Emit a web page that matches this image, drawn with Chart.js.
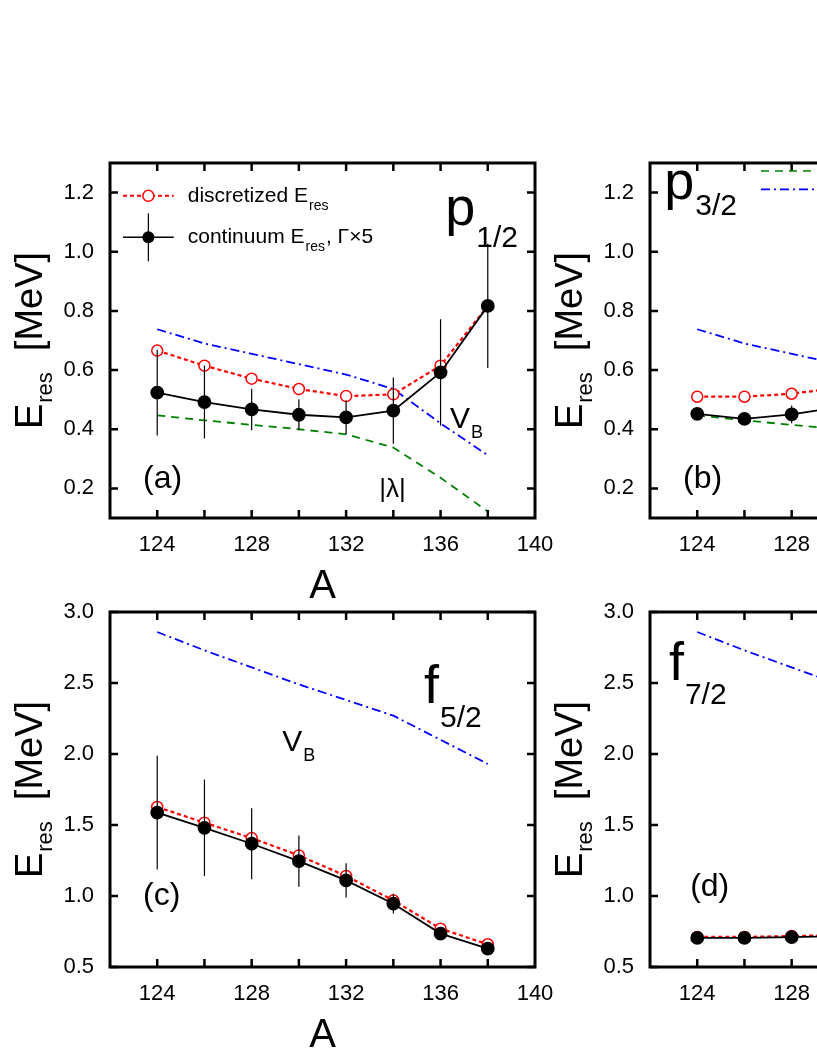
<!DOCTYPE html>
<html>
<head>
<meta charset="utf-8">
<script src="https://cdn.jsdelivr.net/npm/chart.js@4.4.1/dist/chart.umd.min.js"></script>
<style>
  html, body { margin: 0; padding: 0; background: #fff; width: 817px; height: 1058px; overflow: hidden; position: relative; }
  .pane { position: absolute; width: 560px; height: 480px; }
</style>
</head>
<body>
<div class="pane" style="left:0;top:130px"><canvas id="pa"></canvas></div>
<div class="pane" style="left:540px;top:130px"><canvas id="pb"></canvas></div>
<div class="pane" style="left:0;top:579px"><canvas id="pc"></canvas></div>
<div class="pane" style="left:540px;top:579px"><canvas id="pd"></canvas></div>
<script>
const A = [124, 126, 128, 130, 132, 134, 136, 138];
const X_TICKS = [124, 128, 132, 136, 140];
const X_MINOR = [124, 126, 128, 130, 132, 134, 136, 138];

// (a) p1/2
const aDisc = [0.666, 0.615, 0.571, 0.536, 0.512, 0.518, 0.615, 0.817];
const aCont = [0.524, 0.492, 0.467, 0.449, 0.440, 0.463, 0.592, 0.817];
const aErr  = [0.145, 0.123, 0.070, 0.052, 0.057, 0.112, 0.180, 0.210];
const aVB   = [0.738, 0.690, 0.655, 0.620, 0.585, 0.536, 0.420, 0.312];
const aLam  = [0.447, 0.430, 0.415, 0.400, 0.383, 0.338, 0.236, 0.122];

// (b) p3/2
const bDisc = [0.510, 0.510, 0.520, 0.540, 0.570, 0.610, 0.680, 0.780];
const bCont = [0.452, 0.435, 0.450, 0.475, 0.510, 0.560, 0.640, 0.760];
const bErr  = [0.020, 0.005, 0.030, 0.030, 0.030, 0.040, 0.060, 0.080];
const bVB   = [0.738, 0.690, 0.655, 0.620, 0.585, 0.536, 0.420, 0.312];
const bLam  = [0.447, 0.430, 0.415, 0.400, 0.383, 0.338, 0.236, 0.122];

// (c) f5/2
const cDisc = [1.627, 1.516, 1.408, 1.286, 1.141, 0.969, 0.770, 0.660];
const cCont = [1.587, 1.480, 1.368, 1.246, 1.110, 0.946, 0.735, 0.629];
const cErr  = [0.400, 0.340, 0.250, 0.180, 0.120, 0.070, 0.020, 0.010];
const cVB   = [2.859, 2.730, 2.610, 2.490, 2.380, 2.270, 2.100, 1.930];

// (d) f7/2
const dDisc = [0.712, 0.712, 0.718, 0.725, 0.735, 0.745, 0.760, 0.780];
const dCont = [0.705, 0.705, 0.710, 0.718, 0.728, 0.738, 0.752, 0.770];
const dErr  = [0.005, 0.005, 0.005, 0.005, 0.005, 0.005, 0.005, 0.005];
const dVB   = [2.859, 2.730, 2.610, 2.490, 2.380, 2.270, 2.100, 1.930];

const FONT = '"Liberation Sans", Arial, sans-serif';
const pts = (ys) => A.map((x, i) => ({ x, y: ys[i] }));

function line(ys, color, dash, extra) {
  return Object.assign({
    data: pts(ys), borderColor: color, borderWidth: 1.8, borderDash: dash,
    pointRadius: 0, fill: false, tension: 0, order: 2
  }, extra || {});
}

function drawText(ctx, x, y, text, size, sub, subSize, subDy) {
  ctx.font = size + 'px ' + FONT;
  ctx.fillText(text, x, y);
  if (sub) {
    const w = ctx.measureText(text).width;
    ctx.font = subSize + 'px ' + FONT;
    ctx.fillText(sub, x + w + 1, y + subDy);
  }
}

const decor = {
  id: 'decor',
  afterDatasetsDraw(chart, args, o) {
    const { ctx, chartArea: ca, scales: { x, y } } = chart;
    ctx.save();
    // error bars on continuum
    ctx.strokeStyle = '#000'; ctx.lineWidth = 1.2;
    o.err.forEach((e, i) => {
      const px = x.getPixelForValue(A[i]);
      ctx.beginPath();
      ctx.moveTo(px, y.getPixelForValue(o.cont[i] - e));
      ctx.lineTo(px, y.getPixelForValue(o.cont[i] + e));
      ctx.stroke();
    });
    // frame and inward ticks
    ctx.lineWidth = 3;
    ctx.strokeRect(ca.left, ca.top, ca.right - ca.left, ca.bottom - ca.top);
    ctx.lineWidth = 2.5;
    X_MINOR.forEach(v => {
      const px = x.getPixelForValue(v);
      ctx.beginPath();
      ctx.moveTo(px, ca.bottom); ctx.lineTo(px, ca.bottom - 8);
      ctx.moveTo(px, ca.top); ctx.lineTo(px, ca.top + 8);
      ctx.stroke();
    });
    o.yTicks.forEach(v => {
      const py = y.getPixelForValue(v);
      ctx.beginPath();
      ctx.moveTo(ca.left, py); ctx.lineTo(ca.left + 8, py);
      ctx.moveTo(ca.right, py); ctx.lineTo(ca.right - 8, py);
      ctx.stroke();
    });
    // legend entries
    (o.legend || []).forEach(l => {
      const x0 = x.getPixelForValue(l.x0), x1 = x.getPixelForValue(l.x1);
      const py = y.getPixelForValue(l.y);
      ctx.strokeStyle = l.color; ctx.lineWidth = l.width; ctx.setLineDash(l.dash);
      ctx.beginPath(); ctx.moveTo(x0, py); ctx.lineTo(x1, py); ctx.stroke();
      ctx.setLineDash([]);
      const cx = (x0 + x1) / 2;
      if (l.bar) {
        ctx.strokeStyle = '#000'; ctx.lineWidth = 1.2;
        ctx.beginPath(); ctx.moveTo(cx, py - 24); ctx.lineTo(cx, py + 24); ctx.stroke();
      }
      if (l.marker === 'open') {
        ctx.fillStyle = '#fff'; ctx.strokeStyle = 'red'; ctx.lineWidth = 1.5;
        ctx.beginPath(); ctx.arc(cx, py, 5.5, 0, Math.PI * 2); ctx.fill(); ctx.stroke();
      } else if (l.marker === 'filled') {
        ctx.fillStyle = '#000';
        ctx.beginPath(); ctx.arc(cx, py, 6, 0, Math.PI * 2); ctx.fill();
      }
      ctx.fillStyle = '#000'; ctx.textBaseline = 'middle';
      drawText(ctx, x1 + 14, py, l.text, 21, l.sub, 14, 10);
      if (l.tail) {
        ctx.font = '21px ' + FONT;
        const w = ctx.measureText(l.text).width + 1;
        ctx.font = '14px ' + FONT;
        const ws = ctx.measureText(l.sub).width;
        ctx.font = '21px ' + FONT;
        ctx.fillText(l.tail, x1 + 14 + w + ws + 1, py);
      }
      ctx.textBaseline = 'alphabetic';
    });
    // in-plot labels
    ctx.fillStyle = '#000';
    o.labels.forEach(l => {
      drawText(ctx, x.getPixelForValue(l.x), y.getPixelForValue(l.y), l.text, l.size, l.sub, l.subSize, l.subDy);
    });
    // axis titles
    ctx.textAlign = 'center';
    ctx.font = '40px ' + FONT;
    ctx.fillText('A', (ca.left + ca.right) / 2, chart.height - 12);
    ctx.translate(ca.left - 82, (ca.top + ca.bottom) / 2);
    ctx.rotate(-Math.PI / 2);
    ctx.textAlign = 'left';
    ctx.font = '38px ' + FONT;
    const wE = ctx.measureText('E').width;
    ctx.font = '22px ' + FONT;
    const wR = ctx.measureText('res').width;
    ctx.font = '38px ' + FONT;
    const wM = ctx.measureText('[MeV]').width;
    const total = wE + wR + 22 + wM;
    let sx = -total / 2;
    ctx.fillText('E', sx, 14);
    ctx.font = '22px ' + FONT;
    ctx.fillText('res', sx + wE + 1, 24);
    ctx.font = '38px ' + FONT;
    ctx.fillText('[MeV]', sx + wE + wR + 22, 14);
    ctx.restore();
  }
};

function makePanel(id, p) {
  const datasets = [
    { data: pts(p.cont), borderColor: '#000', borderWidth: 1.8, pointRadius: 6,
      pointBackgroundColor: '#000', pointBorderColor: '#000', tension: 0, order: 0 },
    { data: pts(p.disc), borderColor: 'red', borderWidth: 2.2, borderDash: [4, 3], pointRadius: 5.5,
      pointBackgroundColor: '#fff', pointBorderColor: 'red', pointBorderWidth: 1.5, tension: 0, order: 1 },
    line(p.vb, '#0000ff', [9, 4, 2, 4])
  ];
  if (p.lam) datasets.push(line(p.lam, '#008000', [8, 6]));
  new Chart(document.getElementById(id), {
    type: 'line',
    data: { datasets },
    plugins: [decor],
    options: {
      responsive: true, maintainAspectRatio: false, animation: false,
      layout: { padding: { top: 33, right: 25, left: 0, bottom: 0 } },
      plugins: {
        legend: { display: false }, tooltip: { enabled: false },
        decor: { cont: p.cont, err: p.err, yTicks: p.yTicks, labels: p.labels, legend: p.legend }
      },
      scales: {
        x: {
          type: 'linear', min: 122, max: 140,
          grid: { display: false }, border: { display: false },
          afterBuildTicks: (s) => { s.ticks = X_TICKS.map(v => ({ value: v })); },
          afterFit: (s) => { s.height = 92; },
          ticks: { color: '#000', padding: 6, maxRotation: 0, font: { family: FONT, size: 22 } }
        },
        y: {
          min: p.yMin, max: p.yMax,
          grid: { display: false }, border: { display: false },
          afterBuildTicks: (s) => { s.ticks = p.yTicks.map(v => ({ value: v })); },
          afterFit: (s) => { s.width = 110; },
          ticks: { color: '#000', padding: 8, font: { family: FONT, size: 22 },
                   callback: (v) => v.toFixed(1) }
        }
      }
    }
  });
}

const P_TICKS = [0.2, 0.4, 0.6, 0.8, 1.0, 1.2];
const F_TICKS = [0.5, 1.0, 1.5, 2.0, 2.5, 3.0];

makePanel('pa', {
  disc: aDisc, cont: aCont, err: aErr, vb: aVB, lam: aLam, yMin: 0.1, yMax: 1.3, yTicks: P_TICKS,
  labels: [
    { x: 136.2, y: 1.09, text: 'p', size: 54, sub: '1/2', subSize: 30, subDy: 22 },
    { x: 123.4, y: 0.20, text: '(a)', size: 32 },
    { x: 133.4, y: 0.17, text: '|λ|', size: 26 },
    { x: 136.4, y: 0.405, text: 'V', size: 30, sub: 'B', subSize: 18, subDy: 10 }
  ],
  legend: [
    { x0: 122.55, x1: 124.7, y: 1.189, color: 'red', width: 2, dash: [4, 3], marker: 'open', text: 'discretized E', sub: 'res' },
    { x0: 122.55, x1: 124.7, y: 1.049, color: '#000', width: 1.6, dash: [], marker: 'filled', bar: true, text: 'continuum E', sub: 'res', tail: ', Γ×5' }
  ]
});

makePanel('pb', {
  disc: bDisc, cont: bCont, err: bErr, vb: bVB, lam: bLam, yMin: 0.1, yMax: 1.3, yTicks: P_TICKS,
  labels: [
    { x: 122.6, y: 1.18, text: 'p', size: 54, sub: '3/2', subSize: 30, subDy: 16 },
    { x: 123.4, y: 0.20, text: '(b)', size: 32 }
  ],
  legend: [
    { x0: 126.7, x1: 129.5, y: 1.273, color: '#008000', width: 1.6, dash: [8, 6], text: '|λ|' },
    { x0: 126.7, x1: 129.5, y: 1.211, color: '#0000ff', width: 1.6, dash: [9, 4, 2, 4], text: 'V', sub: 'B' }
  ]
});

makePanel('pc', {
  disc: cDisc, cont: cCont, err: cErr, vb: cVB, yMin: 0.5, yMax: 3.0, yTicks: F_TICKS,
  labels: [
    { x: 135.3, y: 2.36, text: 'f', size: 54, sub: '5/2', subSize: 30, subDy: 24 },
    { x: 129.3, y: 2.02, text: 'V', size: 30, sub: 'B', subSize: 18, subDy: 10 },
    { x: 123.4, y: 0.94, text: '(c)', size: 32 }
  ]
});

makePanel('pd', {
  disc: dDisc, cont: dCont, err: dErr, vb: dVB, yMin: 0.5, yMax: 3.0, yTicks: F_TICKS,
  labels: [
    { x: 122.8, y: 2.52, text: 'f', size: 54, sub: '7/2', subSize: 30, subDy: 24 },
    { x: 123.7, y: 1.0, text: '(d)', size: 32 }
  ]
});
</script>
</body>
</html>
